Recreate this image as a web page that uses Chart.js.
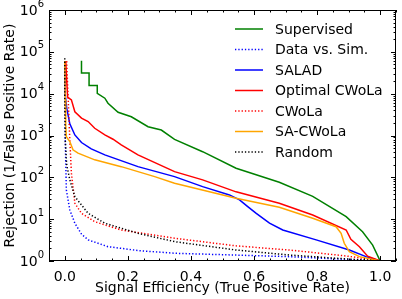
<!DOCTYPE html>
<html>
<head>
<meta charset="utf-8">
<script src="https://cdn.jsdelivr.net/npm/chart.js@4/dist/chart.umd.min.js"></script>
<style>
  body { margin: 0; background: #fff; }
</style>
</head>
<body>
<canvas class="chart-1" width="402" height="299"></canvas>
<script>
const xTicks = [0, 0.2, 0.4, 0.6, 0.8, 1.0];
const yTicks = [1, 10, 100, 1000, 10000, 100000, 1000000];
const yTickExponents = ['0', '1', '2', '3', '4', '5', '6'];

const labels = ['Supervised', 'Data vs. Sim.', 'SALAD', 'Optimal CWoLa', 'CWoLa', 'SA-CWoLa', 'Random'];

const supervisedX = [0.053, 0.053, 0.077, 0.077, 0.103, 0.103, 0.127, 0.137, 0.169, 0.211, 0.264, 0.306, 0.348, 0.437, 0.543, 0.680, 0.786, 0.892, 0.944, 0.976, 1.0];
const supervisedY = [61000, 31000, 31000, 15600, 15600, 10200, 7800, 5900, 3600, 2800, 1620, 1350, 810, 410, 165, 76, 35, 11.5, 5.0, 2.4, 1];

const dataSimX = [0.0, 0.0016, 0.005, 0.016, 0.032, 0.053, 0.074, 0.137, 0.232, 0.348, 0.712, 1.0];
const dataSimY = [60000, 780, 50, 16.6, 8.0, 4.4, 3.2, 2.2, 1.78, 1.53, 1.27, 1];

const saladX = [0.0, 0.0016, 0.006, 0.016, 0.032, 0.053, 0.084, 0.127, 0.232, 0.348, 0.437, 0.522, 0.554, 0.58, 0.607, 0.649, 0.691, 0.797, 0.902, 0.955, 1.0];
const saladY = [60000, 9300, 4600, 1900, 1030, 680, 480, 345, 180, 104, 60, 38, 29, 20, 13.8, 8.0, 5.5, 3.2, 1.83, 1.27, 1];

const optimalX = [0.003, 0.006, 0.009, 0.021, 0.032, 0.053, 0.074, 0.095, 0.127, 0.153, 0.179, 0.232, 0.348, 0.437, 0.543, 0.680, 0.786, 0.892, 0.907, 0.934, 0.960, 1.0];
const optimalY = [60000, 21400, 8300, 7100, 3700, 2600, 2150, 1490, 1030, 815, 600, 345, 137, 87, 45, 24, 12.6, 5.5, 3.3, 2.2, 1.3, 1];

const cwolaX = [0.006, 0.011, 0.016, 0.021, 0.032, 0.053, 0.095, 0.179, 0.348, 0.543, 0.712, 0.892, 1.0];
const cwolaY = [60000, 7000, 780, 126, 24, 13.8, 8.7, 5.5, 3.5, 2.3, 1.83, 1.32, 1];

const saCwolaX = [0.0, 0.0016, 0.003, 0.005, 0.016, 0.026, 0.042, 0.095, 0.179, 0.285, 0.348, 0.543, 0.680, 0.786, 0.860, 0.876, 0.886, 0.902, 0.934, 1.0];
const saCwolaY = [60000, 7000, 1800, 940, 715, 455, 378, 262, 180, 104, 72, 31.6, 19.2, 10.5, 6.6, 4.6, 2.65, 1.67, 1.27, 1];

const randomX = [0.0, 0.0, 0.0016, 0.006, 0.016, 0.032, 0.074, 0.127, 0.232, 0.348, 0.543, 0.712, 0.870, 1.0];
const randomY = [70000, 7000, 780, 200, 87, 34.5, 13.8, 8.0, 4.6, 2.9, 1.83, 1.39, 1.15, 1];

const FONT = 'DejaVu Sans';

function points(xs, ys){
    const pts = [];
    for (let i = 0; i < xs.length; i++) {
        pts.push({x: xs[i], y: ys[i]});
    }
    return pts;
}

function makeDataset(label, xs, ys, color, dotted, i){
    return {
        label: label,
        data: points(xs, ys),
        borderColor: color,
        backgroundColor: color,
        borderWidth: 1.5,
        borderDash: dotted ? [1.3, 2] : [],
        pointRadius: 0,
        tension: 0,
        fill: false,
        order: 10 - i
    };
}

const datasets = [
    makeDataset(labels[0], supervisedX, supervisedY, '#008000', false, 0),
    makeDataset(labels[1], dataSimX, dataSimY, '#0000ff', true, 1),
    makeDataset(labels[2], saladX, saladY, '#0000ff', false, 2),
    makeDataset(labels[3], optimalX, optimalY, '#ff0000', false, 3),
    makeDataset(labels[4], cwolaX, cwolaY, '#ff0000', true, 4),
    makeDataset(labels[5], saCwolaX, saCwolaY, '#ffa500', false, 5),
    makeDataset(labels[6], randomX, randomY, '#000000', true, 6)
];

// frame, inside ticks on all four sides, 10^n labels and the legend
const frameTicks = {
    id: 'frameTicks',
    afterDraw(chart){
        const {ctx, chartArea: a, scales: {x, y}} = chart;
        ctx.save();
        ctx.strokeStyle = '#000';
        ctx.lineWidth = 1;
        ctx.setLineDash([]);
        ctx.beginPath();
        for (let i = -1; i <= 21; i++) {
            const px = Math.round(x.getPixelForValue(i * 0.05)) + 0.5;
            const len = i % 4 === 0 ? 5 : 2.5;
            ctx.moveTo(px, a.bottom); ctx.lineTo(px, a.bottom - len);
            ctx.moveTo(px, a.top); ctx.lineTo(px, a.top + len);
        }
        for (let k = 0; k <= 6; k++) {
            for (let m = 1; m <= 9; m++) {
                if (k === 6 && m > 1) break;
                const py = Math.round(y.getPixelForValue(m * Math.pow(10, k))) + 0.5;
                const len = m === 1 ? 5 : 2.5;
                ctx.moveTo(a.left, py); ctx.lineTo(a.left + len, py);
                ctx.moveTo(a.right, py); ctx.lineTo(a.right - len, py);
            }
        }
        ctx.stroke();
        ctx.strokeRect(a.left + 0.5, a.top + 0.5, a.right - a.left - 1, a.bottom - a.top - 1);

        ctx.fillStyle = '#000';
        ctx.textBaseline = 'middle';
        ctx.textAlign = 'right';
        for (let i = 0; i < yTicks.length; i++) {
            const py = y.getPixelForValue(yTicks[i]);
            ctx.font = '10px "' + FONT + '"';
            const ew = ctx.measureText(yTickExponents[i]).width;
            ctx.fillText(yTickExponents[i], a.left - 5, py - 6);
            ctx.font = '14px "' + FONT + '"';
            ctx.fillText('10', a.left - 5 - ew, py + 1);
        }

        ctx.textAlign = 'left';
        ctx.font = '14px "' + FONT + '"';
        chart.data.datasets.forEach(function(ds, i){
            const ly = 29 + i * 20.5;
            ctx.strokeStyle = ds.borderColor;
            ctx.lineWidth = ds.borderWidth;
            ctx.setLineDash(ds.borderDash);
            ctx.beginPath();
            ctx.moveTo(235, ly); ctx.lineTo(263, ly);
            ctx.stroke();
            ctx.fillText(ds.label, 275, ly + 1);
        });
        ctx.restore();
    }
};

const tickFont = {family: FONT, size: 14};

new Chart(document.querySelector('.chart-1'), {
    type: 'line',
    data: {datasets: datasets},
    options: {
        responsive: false,
        animation: false,
        layout: {padding: {top: 10, right: 6, left: 0, bottom: 0}},
        plugins: {legend: {display: false}, tooltip: {enabled: false}},
        scales: {
            x: {
                type: 'linear',
                min: -0.05,
                max: 1.05,
                grid: {display: false, drawTicks: false},
                border: {display: false},
                afterBuildTicks: s => { s.ticks = xTicks.map(v => ({value: v})); },
                afterFit: s => { s.height = 38; },
                ticks: {padding: 8, color: '#000', font: tickFont, maxRotation: 0, autoSkip: false,
                    callback: v => v.toFixed(1)},
                title: {display: true, text: 'Signal Efficiency (True Positive Rate)', color: '#000',
                    font: tickFont, padding: {top: 0, bottom: 2}}
            },
            y: {
                type: 'logarithmic',
                min: 1,
                max: 1000000,
                grid: {display: false, drawTicks: false},
                border: {display: false},
                afterBuildTicks: s => { s.ticks = yTicks.map(v => ({value: v})); },
                afterFit: s => { s.width = 49; },
                ticks: {display: false},
                title: {display: true, text: 'Rejection (1/False Positive Rate)', color: '#000',
                    font: tickFont, padding: {top: 2, bottom: 0}}
            }
        }
    },
    plugins: [frameTicks]
});
</script>
</body>
</html>
